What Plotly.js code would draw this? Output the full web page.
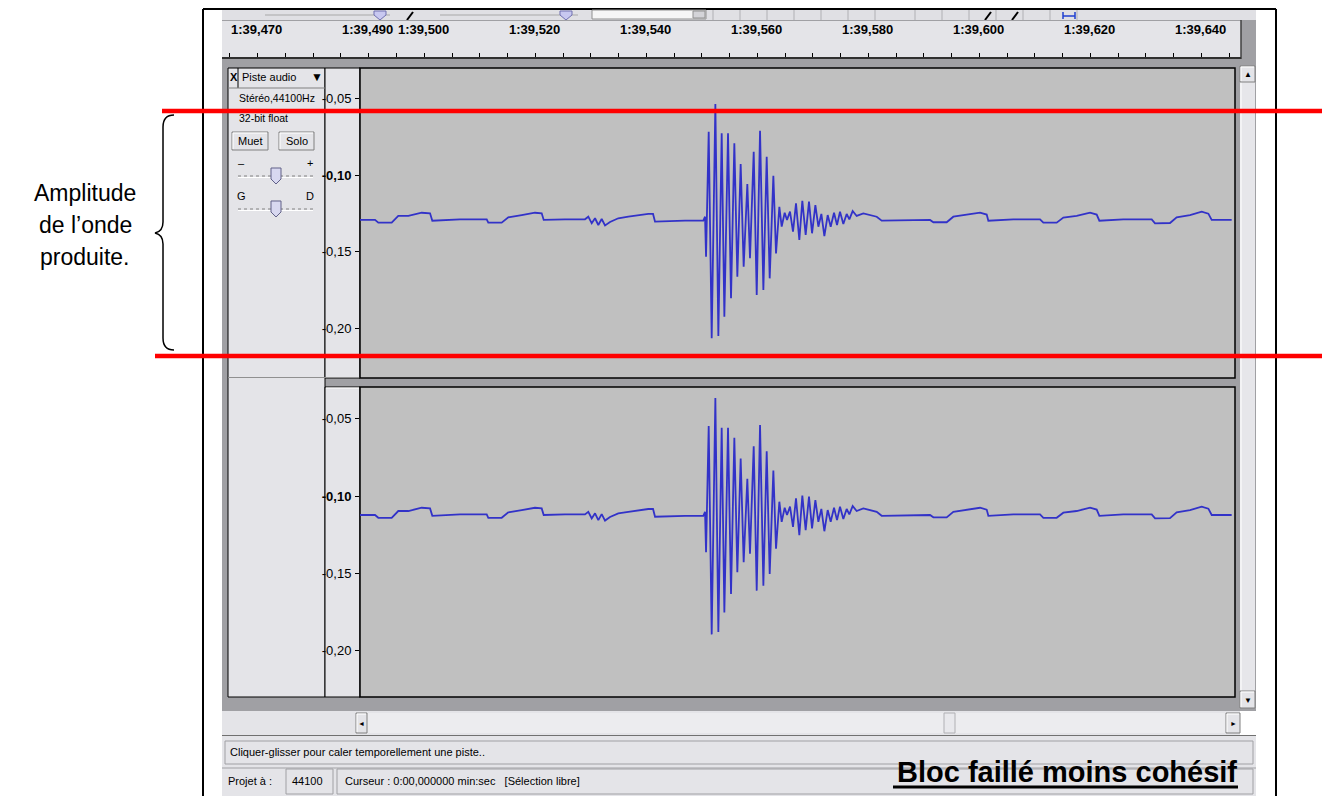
<!DOCTYPE html>
<html><head><meta charset="utf-8">
<script src="https://cdn.plot.ly/plotly-3.0.1.min.js"></script>
<style>html,body{margin:0;padding:0;background:#fff;overflow:hidden}#chart{width:1330px;height:796px}</style>
</head><body><div id="chart"></div>
<script>
// ---- data (time in ms after 1:39,000 ; amplitude) ----
const timeMs = [
 493.42, 496.13, 496.72, 499.13, 500.32, 502.13, 504.54, 506.04, 506.45, 511.44,
 516.25, 516.54, 518.95, 520.14, 522.56, 524.95, 526.16, 526.52, 530.36, 533.96,
 534.56, 535.17, 535.77, 536.36, 536.97, 537.57, 538.47, 539.96, 541.77, 543.57,
 545.37, 546.22, 546.58, 551.98, 555.28,
 555.59, 555.77, 556.25, 556.79, 557.45, 557.99, 558.59, 559.07, 559.73, 560.27,
 560.87, 561.41, 562.01, 562.55, 563.21, 563.69, 564.36, 564.90, 565.50, 566.10,
 566.70, 567.24, 567.90, 568.38, 568.98, 569.40, 569.94, 570.36, 570.90, 571.44,
 571.98, 572.58, 573.12, 573.72, 574.32, 574.87, 575.47, 576.01, 576.55, 577.09,
 577.69, 578.23, 578.83, 579.37, 579.91, 580.51, 581.11, 581.59, 582.19, 582.91,
 584.11, 585.31, 586.52, 587.42,
 591.92, 596.13, 596.73, 599.13, 600.33, 602.73, 605.14, 606.34, 606.64, 611.14,
 615.95, 616.55, 618.95, 620.15, 622.55, 624.96, 626.16, 626.64, 630.96, 636.07,
 636.67, 639.37, 640.57, 642.97, 645.08, 646.28, 646.88, 650.48
];
const leftChannel = [
 -0.1293, -0.1293, -0.1311, -0.1311, -0.1267, -0.1267, -0.1246, -0.1250, -0.1298, -0.1289,
 -0.1289, -0.1311, -0.1311, -0.1276, -0.1261, -0.1246, -0.1250, -0.1293, -0.1289, -0.1289,
 -0.1272, -0.1315, -0.1282, -0.1326, -0.1287, -0.1329, -0.1306, -0.1282, -0.1272, -0.1261,
 -0.1254, -0.1254, -0.1304, -0.1298, -0.1298,
 -0.1272, -0.1533, -0.0718, -0.2065, -0.0537, -0.2050, -0.0728, -0.1924, -0.0728, -0.1804,
 -0.0793, -0.1663, -0.0928, -0.1598, -0.1059, -0.1543, -0.0848, -0.1782, -0.0711, -0.1750,
 -0.0881, -0.1674, -0.1005, -0.1511, -0.1207, -0.1337, -0.1246, -0.1293, -0.1239, -0.1370,
 -0.1185, -0.1424, -0.1168, -0.1391, -0.1174, -0.1380, -0.1196, -0.1337, -0.1254, -0.1398,
 -0.1261, -0.1337, -0.1246, -0.1326, -0.1239, -0.1319, -0.1254, -0.1289, -0.1235, -0.1267,
 -0.1250, -0.1261, -0.1272, -0.1298,
 -0.1293, -0.1293, -0.1308, -0.1308, -0.1272, -0.1261, -0.1246, -0.1258, -0.1298, -0.1289,
 -0.1289, -0.1311, -0.1311, -0.1278, -0.1267, -0.1246, -0.1258, -0.1298, -0.1289, -0.1289,
 -0.1315, -0.1313, -0.1276, -0.1261, -0.1239, -0.1252, -0.1293, -0.1293
];
const rightChannel = [
 -0.1123, -0.1123, -0.1141, -0.1141, -0.1097, -0.1097, -0.1076, -0.1080, -0.1128, -0.1119,
 -0.1119, -0.1141, -0.1141, -0.1106, -0.1091, -0.1076, -0.1080, -0.1123, -0.1119, -0.1119,
 -0.1102, -0.1145, -0.1112, -0.1156, -0.1117, -0.1159, -0.1136, -0.1112, -0.1102, -0.1091,
 -0.1084, -0.1084, -0.1134, -0.1128, -0.1128,
 -0.1102, -0.1363, -0.0548, -0.1895, -0.0367, -0.1880, -0.0558, -0.1754, -0.0558, -0.1634,
 -0.0623, -0.1493, -0.0758, -0.1428, -0.0889, -0.1373, -0.0678, -0.1612, -0.0541, -0.1580,
 -0.0711, -0.1504, -0.0835, -0.1341, -0.1037, -0.1167, -0.1076, -0.1123, -0.1069, -0.1200,
 -0.1015, -0.1254, -0.0998, -0.1221, -0.1004, -0.1210, -0.1026, -0.1167, -0.1084, -0.1228,
 -0.1091, -0.1167, -0.1076, -0.1156, -0.1069, -0.1149, -0.1084, -0.1119, -0.1065, -0.1097,
 -0.1080, -0.1091, -0.1102, -0.1128,
 -0.1123, -0.1123, -0.1138, -0.1138, -0.1102, -0.1091, -0.1076, -0.1088, -0.1128, -0.1119,
 -0.1119, -0.1141, -0.1141, -0.1108, -0.1097, -0.1076, -0.1088, -0.1128, -0.1119, -0.1119,
 -0.1145, -0.1143, -0.1106, -0.1091, -0.1069, -0.1082, -0.1123, -0.1123
];
const rulerTicks  = [470, 490, 500, 520, 540, 560, 580, 600, 620, 640];
const rulerLabels = ['1:39,470','1:39,490','1:39,500','1:39,520','1:39,540','1:39,560','1:39,580','1:39,600','1:39,620','1:39,640'];
const ampTicks  = [-0.05, -0.10, -0.15, -0.20];
const ampLabels = ['-0,05', '<b>-0,10</b>', '-0,15', '-0,20'];

// ---- helpers (pixel -> paper) ----
const W = 1330, H = 796;
const F = 'Liberation Sans, Arial, sans-serif';
const fx = p => p / W;
const fy = p => 1 - p / H;
const shapes = [], annotations = [];
function rect(x0, y0, x1, y1, fill, lc, lw, layer) {
  shapes.push({type:'rect', xref:'paper', yref:'paper', x0:fx(x0), x1:fx(x1), y0:fy(y1), y1:fy(y0),
    fillcolor: fill || 'rgba(0,0,0,0)', line:{color: lc || 'rgba(0,0,0,0)', width: lc ? (lw || 1) : 0}, layer: layer || 'below'});
}
function seg(x0, y0, x1, y1, color, w, layer, dash) {
  shapes.push({type:'line', xref:'paper', yref:'paper', x0:fx(x0), x1:fx(x1), y0:fy(y0), y1:fy(y1),
    line:{color:color, width:w || 1, dash: dash || 'solid'}, layer: layer || 'below'});
}
function pathPx(s, fill, lc, lw, layer) {
  const tk = s.trim().split(/\s+/); let out = [], isX = true;
  tk.forEach(t => { if (/^[A-Za-z]$/.test(t)) { out.push(t); isX = true; }
    else { out.push(isX ? fx(+t).toFixed(5) : fy(+t).toFixed(5)); isX = !isX; } });
  shapes.push({type:'path', xref:'paper', yref:'paper', path: out.join(' '),
    fillcolor: fill || 'rgba(0,0,0,0)', line:{color: lc || 'rgba(0,0,0,0)', width: lc ? (lw || 1) : 0}, layer: layer || 'below'});
}
function txt(x, y, t, size, opts) {
  annotations.push(Object.assign({xref:'paper', yref:'paper', x:fx(x), y:fy(y), text:t, showarrow:false,
    xanchor:'left', yanchor:'middle', font:{family:F, size:size, color:'#000'}}, opts || {}));
}
function button(x0, y0, x1, y1) {
  rect(x0, y0, x1, y1, '#e4e4e8', '#808080', 1);
  seg(x0 + 1, y0 + 1, x1 - 1, y0 + 1, '#ffffff', 1);
  seg(x0 + 1, y0 + 1, x0 + 1, y1 - 1, '#ffffff', 1);
}

// ---- frame ----
seg(203, 9, 203, 796, '#000', 2);
seg(203, 9, 1276, 9, '#000', 2);
seg(1276, 9, 1276, 796, '#000', 2);

// ---- toolbar (cut) ----
rect(222, 10, 1256, 20, '#e0e0e4');
seg(265, 15, 390, 15, '#a8a8a8', 1); seg(440, 15, 578, 15, '#a8a8a8', 1);
pathPx('M 374 11 L 386 11 L 386 15 L 380 20 L 374 15 Z', '#c8c8f0', '#7070b0', 1);
pathPx('M 560 11 L 572 11 L 572 15 L 566 20 L 560 15 Z', '#c8c8f0', '#7070b0', 1);
seg(407, 20, 413, 12, '#000', 2);
rect(592, 10, 706, 19, '#f6f6f6', '#909090', 1); rect(693, 11, 705, 18, '#d4d4d8', '#909090', 1);
[713, 740, 767, 794, 821, 848, 875, 915, 942, 969, 996, 1023, 1050, 1077].forEach(b => {
  seg(b, 10, b, 20, '#b0b0b4', 1);
});
seg(985, 20, 991, 12, '#000', 2); seg(1012, 20, 1018, 12, '#000', 2);
seg(1063, 16, 1075, 16, '#2040d0', 1.5); seg(1063, 12, 1063, 19, '#2040d0', 1.5); seg(1075, 12, 1075, 19, '#2040d0', 1.5);

// ---- ruler ----
rect(222, 20, 1241, 57, '#e4e4e8');
seg(222, 20.5, 1241, 20.5, '#a0a0a4', 1);
rect(1241, 20, 1256, 59, '#a0a0a4');
seg(1241, 20, 1241, 59, '#404040', 1.5);
seg(222, 58, 1241, 58, '#303030', 2);

// ---- track area ----
rect(222, 59, 1256, 711, '#a0a0a4');
rect(228, 68, 325, 697, '#e4e4e8', '#000', 1);
rect(325, 68, 360, 378, '#e4e4e8', '#000', 1);
rect(325, 387, 360, 697, '#e4e4e8', '#000', 1);
seg(228, 377.5, 360, 377.5, '#909090', 1);
seg(326, 388, 359, 388, '#ffffff', 1);
rect(360, 68, 1235, 378, '#c0c0c0', '#000', 1.5);
rect(360, 379, 1235, 386, '#a0a0a4');
rect(360, 387, 1235, 697, '#c0c0c0', '#000', 1.5);
// left panel controls
seg(238, 68, 238, 88, '#000', 1);
seg(228, 88, 325, 88, '#808080', 1);
txt(233.5, 77, '<b>X</b>', 11, {xanchor:'center'});
txt(240, 77, 'Piste audio', 11);
txt(317, 77, '▼', 12, {xanchor:'center'});
txt(237, 98, 'Stéréo,44100Hz', 10.5);
txt(237, 118, '32-bit float', 10.5);
button(232, 132, 268, 150); button(279, 132, 314, 150);
txt(250, 141, 'Muet', 11, {xanchor:'center'});
txt(296.5, 141, 'Solo', 11, {xanchor:'center'});
txt(241, 163, '–', 11, {xanchor:'center'});
txt(310, 163, '+', 11, {xanchor:'center'});
seg(238, 176, 313, 176, '#808080', 1, 'below', 'dot');
seg(238, 177.5, 313, 177.5, '#ffffff', 1);
pathPx('M 271 168 L 281 168 L 281 179 L 276 184 L 271 179 Z', '#d8d8f0', '#606088', 1);
txt(241, 196, 'G', 11, {xanchor:'center'});
txt(310, 196, 'D', 11, {xanchor:'center'});
seg(238, 209, 313, 209, '#808080', 1, 'below', 'dot');
seg(238, 210.5, 313, 210.5, '#ffffff', 1);
pathPx('M 271 201 L 281 201 L 281 212 L 276 217 L 271 212 Z', '#d8d8f0', '#606088', 1);

// vertical scrollbar
rect(1240, 66, 1255, 708, '#e6e6ea');
seg(1241, 66, 1241, 708, '#ffffff', 1);
button(1240, 66, 1255, 82); txt(1247.5, 74, '▲', 8, {xanchor:'center'});
button(1240, 691, 1255, 708); txt(1247.5, 700, '▼', 8, {xanchor:'center'});

// horizontal scrollbar
rect(222, 711, 1240, 735, '#e4e4e8');
rect(367, 713, 1226, 733, '#ececef');
button(356, 713, 367, 733); txt(361.5, 723, '◄', 7, {xanchor:'center'});
button(1226, 713, 1240, 733); txt(1233, 723, '►', 7, {xanchor:'center'});
rect(944, 713, 955, 733, '#e8e8ec', '#b0b0b4', 1);
seg(222, 735.5, 1256, 735.5, '#707070', 1);

// status area
rect(222, 736, 1256, 796, '#e4e4e8');
rect(225, 741, 1253, 764, 'rgba(0,0,0,0)', '#a0a0a4', 1);
txt(228, 752, 'Cliquer-glisser pour caler temporellement une piste..', 11);
seg(222, 768, 1256, 768, '#a0a0a4', 1);
txt(226, 781, 'Projet à :', 11);
rect(286, 769, 333, 794, 'rgba(0,0,0,0)', '#a0a0a4', 1);
txt(290, 781, '44100', 11);
rect(337, 769, 1253, 794, 'rgba(0,0,0,0)', '#a0a0a4', 1);
txt(343, 781, 'Curseur : 0:00,000000 min:sec   [Sélection libre]', 11);

// overlay annotations (document)
txt(1239, 772, '<b>Bloc faillé moins cohésif</b>', 29, {xanchor:'right'});
seg(893, 787, 1238, 787, '#000', 3, 'above');
seg(162, 111, 1322, 111, '#ff0000', 4.5, 'above');
seg(155, 356, 1322, 356, '#ff0000', 4.5, 'above');
pathPx('M 174 115 C 167 115 163 119 163 127 L 163 222 C 163 229 160 232 155 233 C 160 234 163 237 163 244 L 163 338 C 163 346 167 350 174 350', null, '#000', 1.5, 'above');
txt(85, 193, 'Amplitude', 23, {xanchor:'center'});
txt(85, 225, 'de l’onde', 23, {xanchor:'center'});
txt(85, 257, 'produite.', 23, {xanchor:'center'});

// ruler labels through the ruler axis
rulerTicks.forEach((t, i) => {
  annotations.push({xref:'x', yref:'paper', x:t, y:fy(30), text:rulerLabels[i], showarrow:false,
    xanchor:'left', yanchor:'middle', xshift:-1, font:{family:F, size:13, color:'#000', weight:'bold'}});
});

const traces = [
  {x:[470], y:[0.5], xaxis:'x', yaxis:'y', mode:'markers', marker:{opacity:0}, hoverinfo:'skip'},
  {x:timeMs, y:leftChannel, xaxis:'x2', yaxis:'y2', mode:'lines', line:{color:'rgb(50,50,200)', width:1.8}, hoverinfo:'skip'},
  {x:timeMs, y:rightChannel, xaxis:'x2', yaxis:'y3', mode:'lines', line:{color:'rgb(50,50,200)', width:1.8}, hoverinfo:'skip'}
];
const yTick = {tickvals:ampTicks, ticktext:ampLabels, ticks:'outside', ticklen:4, tickcolor:'#000', tickwidth:1,
  showgrid:false, zeroline:false, showline:false, fixedrange:true, ticklabelstandoff:1,
  tickfont:{family:F, size:13, color:'#000'}};
const layout = {
  width:W, height:H, margin:{l:0, r:0, t:0, b:0}, paper_bgcolor:'#ffffff', plot_bgcolor:'rgba(0,0,0,0)',
  showlegend:false,
  xaxis:{domain:[fx(222), fx(1242)], range:[468.56, 652.34], anchor:'y', ticks:'inside', ticklen:4,
    tickcolor:'#000', tickwidth:1, dtick:5, tick0:0, showticklabels:false, showgrid:false, zeroline:false, showline:false},
  yaxis:{domain:[fy(57), fy(20)], range:[0, 1], visible:false},
  xaxis2:{domain:[fx(360), fx(1235)], range:[493.42, 651.08], anchor:'y2', visible:false},
  yaxis2:Object.assign({domain:[fy(378), fy(68)], range:[-0.2324, -0.0302], anchor:'x2'}, yTick),
  yaxis3:Object.assign({domain:[fy(697), fy(387)], range:[-0.2300, -0.0295], anchor:'x2'}, yTick),
  shapes:shapes, annotations:annotations
};
Plotly.newPlot('chart', traces, layout, {displayModeBar:false, staticPlot:true});
</script></body></html>
